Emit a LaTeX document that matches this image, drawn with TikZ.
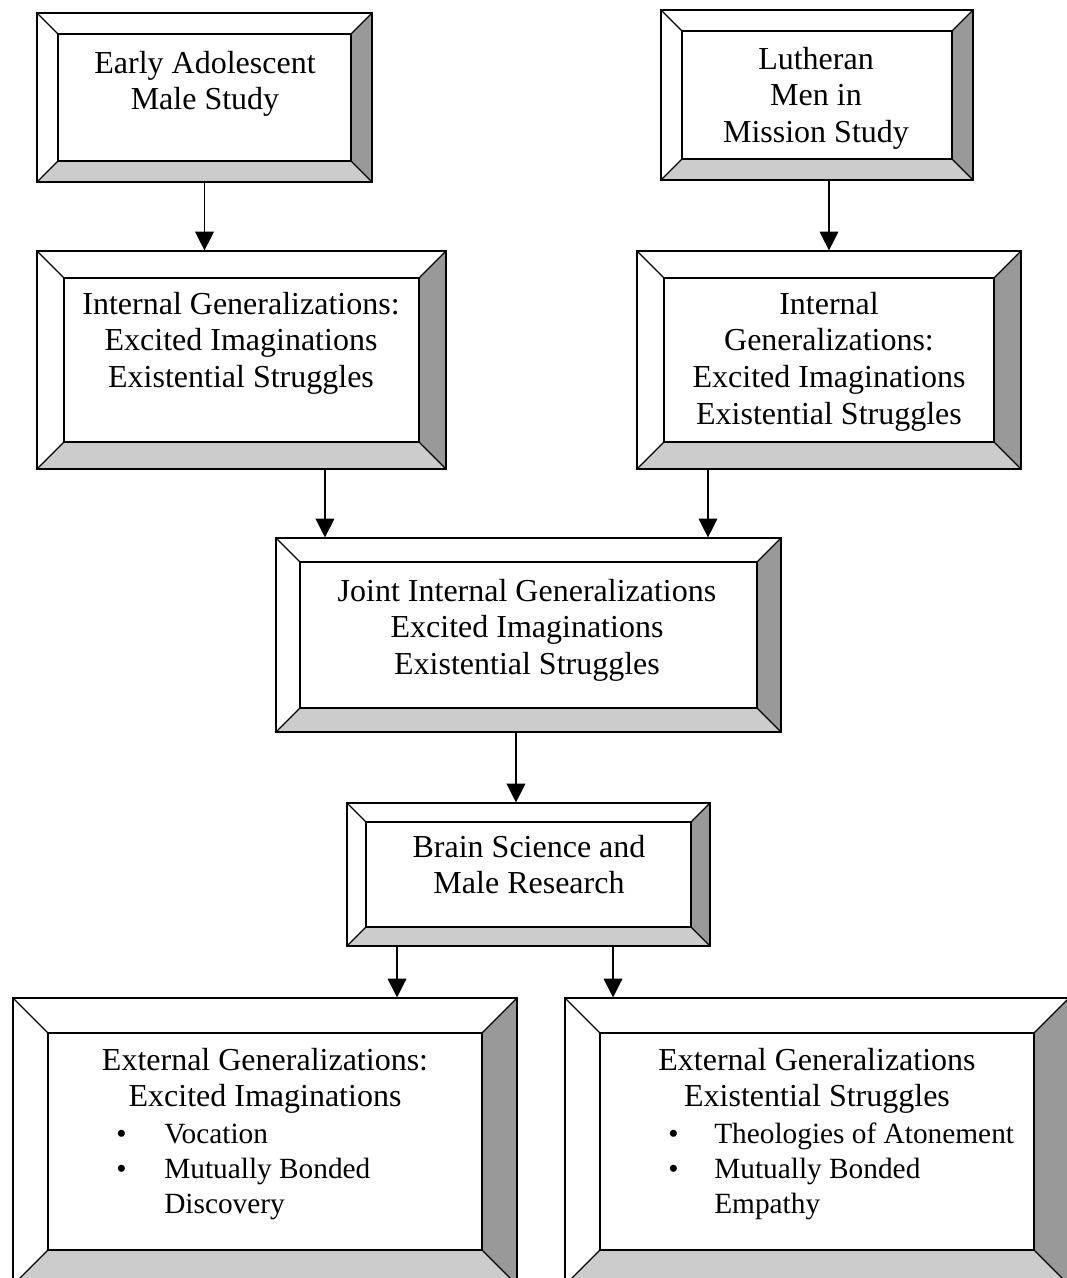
\documentclass[tikz,border=0pt]{standalone}
\usepackage{fontspec}
\setmainfont{Liberation Serif}
\usetikzlibrary{arrows.meta,positioning}

\definecolor{bevlow}{HTML}{CCCCCC}
\definecolor{bevright}{HTML}{999999}

\tikzset{
  bevbox/.style={draw=black, line width=0.9pt, fill=white, path picture={
      \pgfmathsetlengthmacro\bv{#1*0.75pt}
      \path (path picture bounding box.south west) coordinate (pp-sw)
            (path picture bounding box.south east) coordinate (pp-se)
            (path picture bounding box.north east) coordinate (pp-ne)
            (path picture bounding box.north west) coordinate (pp-nw);
      \path ([shift={(\bv,\bv)}]pp-sw) coordinate (pi-sw)
            ([shift={(-\bv,\bv)}]pp-se) coordinate (pi-se)
            ([shift={(-\bv,-\bv)}]pp-ne) coordinate (pi-ne)
            ([shift={(\bv,-\bv)}]pp-nw) coordinate (pi-nw);
      \fill[bevlow] (pp-sw) -- (pp-se) -- (pi-se) -- (pi-sw) -- cycle;
      \fill[bevright] (pp-se) -- (pp-ne) -- (pi-ne) -- (pi-se) -- cycle;
      \draw[line width=0.9pt] (pi-sw) rectangle (pi-ne);
      \draw[line width=0.9pt] (pp-sw) -- (pi-sw) (pp-se) -- (pi-se)
            (pp-ne) -- (pi-ne) (pp-nw) -- (pi-nw);
  }},
  boxsize/.style 2 args={minimum width=#1*0.75pt, minimum height=#2*0.75pt, inner sep=0pt},
  txt/.style={font=\fontsize{24}{27.5}\selectfont, inner sep=0pt, anchor=base},
  lst/.style={font=\fontsize{22}{26.25}\selectfont, inner sep=0pt, anchor=base west},
  arr/.style={-{Triangle[length=14pt,width=14pt]}, line width=0.9pt}
}

\begin{document}
\begin{tikzpicture}[x=0.75pt, y=-0.75pt]

\clip (0,0) rectangle (1067,1278);

% boxes
\node[bevbox=21, boxsize={335}{169}] (early) at (204.5,97.5) {};
\node[bevbox=21, boxsize={312}{170}] (lmm) at (817,95) {};
\node[bevbox=27, boxsize={409}{218}] (intl) at (241.5,360) {};
\node[bevbox=27, boxsize={384}{218}] (intr) at (829,360) {};
\node[bevbox=24, boxsize={505}{194}] (joint) at (528.5,635) {};
\node[bevbox=19, boxsize={363}{143}] (brain) at (528.5,874.5) {};
\node[bevbox=35, boxsize={504}{287}] (extl) at (265,1141.5) {};
\node[bevbox=35, boxsize={504}{287}] (extr) at (817,1141.5) {};

% texts
\node[txt] (earlyt) at (205,73) {\begin{tabular}[t]{@{}c@{}}Early Adolescent\\Male Study\end{tabular}};
\node[txt] (lmmt) at (816,69) {\begin{tabular}[t]{@{}c@{}}Lutheran\\Men in\\Mission Study\end{tabular}};
\node[txt] (intlt) at (241,314) {\begin{tabular}[t]{@{}c@{}}Internal Generalizations:\\Excited Imaginations\\Existential Struggles\end{tabular}};
\node[txt] (intrt) at (829,314) {\begin{tabular}[t]{@{}c@{}}Internal\\Generalizations:\\Excited Imaginations\\Existential Struggles\end{tabular}};
\node[txt] (jointt) at (527,601) {\begin{tabular}[t]{@{}c@{}}Joint Internal Generalizations\\Excited Imaginations\\Existential Struggles\end{tabular}};
\node[txt] (braint) at (529,857) {\begin{tabular}[t]{@{}c@{}}Brain Science and\\Male Research\end{tabular}};
\node[txt] (extlt) at (265,1070) {\begin{tabular}[t]{@{}c@{}}External Generalizations:\\Excited Imaginations\end{tabular}};
\node[txt] (extrt) at (817,1070) {\begin{tabular}[t]{@{}c@{}}External Generalizations\\Existential Struggles\end{tabular}};
\node[lst] (extll) at (116,1143) {\begin{tabular}[t]{@{}p{36pt}@{}l@{}}\textbullet & Vocation\\\textbullet & Mutually Bonded\\ & Discovery\end{tabular}};
\node[lst] (extrl) at (668,1143) {\begin{tabular}[t]{@{}p{34.5pt}@{}l@{}}\textbullet & Theologies of Atonement\\\textbullet & Mutually Bonded\\ & Empathy\end{tabular}};

% arrows
\coordinate (c1) at ([xshift=62.6pt]intl.south);
\coordinate (c2) at ([xshift=-90.75pt]intr.south);
\coordinate (c3) at ([xshift=-9.4pt]joint.south);
\coordinate (c4) at ([xshift=-98.6pt]brain.south);
\coordinate (c5) at ([xshift=63.4pt]brain.south);
\draw[arr] (early.south) -- (early.south |- intl.north);
\draw[arr] (lmm.south -| intr.north) -- (intr.north);
\draw[arr] (c1) -- (c1 |- joint.north);
\draw[arr] (c2) -- (c2 |- joint.north);
\draw[arr] (c3) -- (c3 |- brain.north);
\draw[arr] (c4) -- (c4 |- extl.north);
\draw[arr] (c5) -- (c5 |- extr.north);
\end{tikzpicture}
\end{document}
